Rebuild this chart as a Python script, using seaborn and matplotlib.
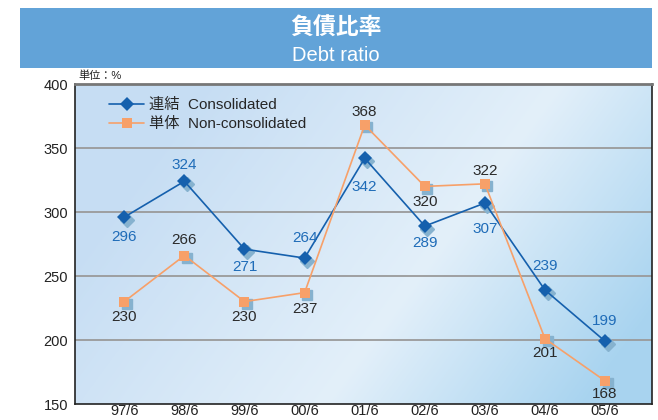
import numpy as np
import pandas as pd
import matplotlib
matplotlib.use("Agg")
import matplotlib.pyplot as plt
import matplotlib.transforms as mtransforms
import seaborn as sns

# data
periods = ["97/6", "98/6", "99/6", "00/6", "01/6", "02/6", "03/6", "04/6", "05/6"]
consolidated = [296, 324, 271, 264, 342, 289, 307, 239, 199]
non_consolidated = [230, 266, 230, 237, 368, 320, 322, 201, 168]

# vertical label offsets (points) from each marker, as placed in the original
cons_label_off = [-14.5, 12, -13, 14.5, -21, -12.5, -19, 17.5, 14.5]
noncons_label_off = [-11, 11.5, -11, -11.5, 9, -11, 9.5, -10, -9.5]

sns.set_theme(style="white")
plt.rcParams['font.family'] = ['Liberation Sans', 'Noto Sans CJK JP', 'DejaVu Sans']

blue = "#1560ad"
orange = "#f7a069"
shadow = "#86b2cf"

df = pd.DataFrame({
    "x": list(range(len(periods))) * 2,
    "value": consolidated + non_consolidated,
    "series": ["連結  Consolidated"] * len(periods) + ["単体  Non-consolidated"] * len(periods),
})

fig = plt.figure(figsize=(6.58, 4.2), dpi=100)
ax = fig.add_axes([75 / 658, 16 / 420, 577 / 658, 320 / 420])

# diagonal gradient background, light band running from lower middle to upper right
xx, yy = np.meshgrid(np.linspace(0, 1, 300), np.linspace(1, 0, 300))
s = xx - (0.433 + 0.407 * yy)
c_light = np.array([0.89, 0.94, 0.98])
c_left = np.array([0.78, 0.87, 0.955])
c_right = np.array([0.66, 0.83, 0.94])
tl = np.clip(-s / 0.6, 0, 1)[..., None]
tr = np.clip(s / 0.45, 0, 1)[..., None]
img = np.where(s[..., None] < 0,
               c_light * (1 - tl) + c_left * tl,
               c_light * (1 - tr) + c_right * tr)
ax.imshow(img, extent=[0, 1, 0, 1], transform=ax.transAxes, aspect="auto", zorder=0)

for y in [200, 250, 300, 350]:
    ax.axhline(y, color="#9a9a9a", lw=1.3, zorder=1)

# marker shadows
shadow_tr = mtransforms.offset_copy(ax.transData, fig=fig, x=2.5, y=-2.5, units="dots")
ax.plot(range(len(periods)), consolidated, ls="none", marker="D", ms=7, color=shadow,
        transform=shadow_tr, zorder=2)
ax.plot(range(len(periods)), non_consolidated, ls="none", marker="s", ms=7, color=shadow,
        transform=shadow_tr, zorder=2)

sns.lineplot(data=df, x="x", y="value", hue="series", style="series",
             palette=[blue, orange], markers=["D", "s"], dashes=False,
             markersize=7, markeredgewidth=0, linewidth=1.2, ax=ax, zorder=3)

for i, v in enumerate(consolidated):
    ax.annotate(str(v), (i, v), xytext=(0, cons_label_off[i]), textcoords="offset points",
                ha="center", va="center", fontsize=11, color="#1f6cb8", zorder=4)
for i, v in enumerate(non_consolidated):
    ax.annotate(str(v), (i, v), xytext=(0, noncons_label_off[i]), textcoords="offset points",
                ha="center", va="center", fontsize=11, color="#2a2a2a", zorder=4)

ax.set_xlim(-0.82, 8.78)
ax.set_ylim(150, 400)
ax.set_xticks(range(len(periods)))
ax.set_xticklabels(periods)
ax.set_yticks([150, 200, 250, 300, 350, 400])
ax.tick_params(axis="both", labelsize=10.5, colors="#222222", length=0)
ax.tick_params(axis="x", pad=0)
ax.tick_params(axis="y", pad=5)
ax.set_xlabel("")
ax.set_ylabel("")

for side in ["left", "bottom", "right"]:
    ax.spines[side].set_color("#222222")
    ax.spines[side].set_linewidth(1.2)
ax.spines["top"].set_color("#777777")
ax.spines["top"].set_linewidth(2)

leg = ax.legend(loc="upper left", bbox_to_anchor=(0.035, 1.0), frameon=False,
                fontsize=11, handlelength=2.3, handletextpad=0.35, labelspacing=0.35)

fig.text(78 / 658, 1 - 76 / 420, "単位：%", fontsize=8, color="#222222",
         ha="left", va="center")

# title banner
banner = fig.add_axes([20 / 658, 1 - 68 / 420, 632 / 658, 60 / 420])
banner.set_facecolor("#62a3d8")
banner.set_xticks([])
banner.set_yticks([])
for sp in banner.spines.values():
    sp.set_visible(False)
banner.text(0.5, 0.67, "負債比率", ha="center", va="center", color="white",
            fontsize=16.5, fontweight="bold", family=['Noto Sans CJK JP', 'DejaVu Sans'])
banner.text(0.5, 0.21, "Debt ratio", ha="center", va="center", color="white",
            fontsize=14.5)

fig.savefig("out.png", dpi=100)
